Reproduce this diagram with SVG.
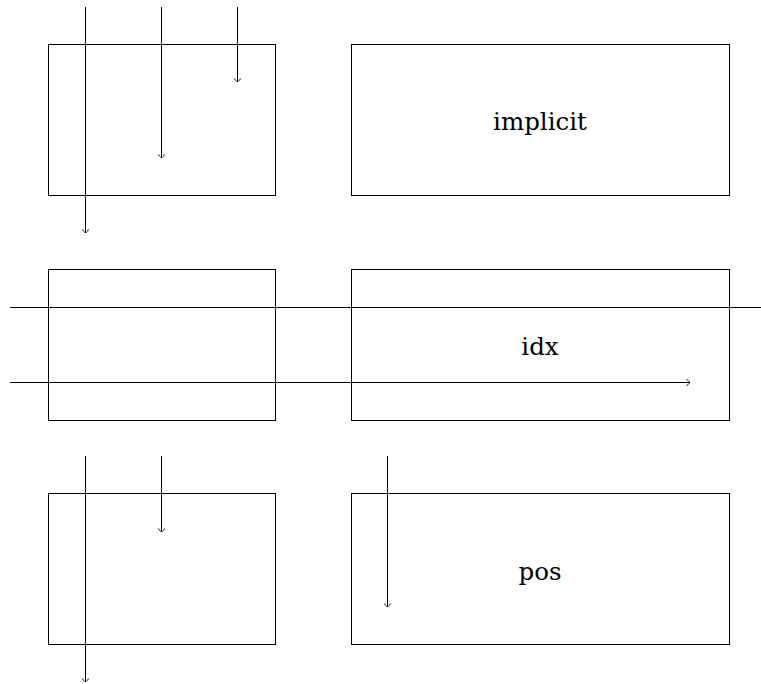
<svg xmlns="http://www.w3.org/2000/svg" width="761" height="684" viewBox="0 0 761 684">
<style>
.box{fill:none;stroke:#000;stroke-width:1}
.c{fill:none;stroke:#000;stroke-width:1}
.t{font-family:'DejaVu Serif',serif;font-size:24.5px;text-anchor:middle;fill:#000}
</style>
<defs>
<marker id="ah" viewBox="-5 -5 6 10" markerWidth="6" markerHeight="10" refX="0" refY="0" orient="auto" markerUnits="userSpaceOnUse">
<path d="M-3.5,-3.5 Q-1,-0.8 0,0 Q-1,0.8 -3.5,3.5" fill="none" stroke="#000" stroke-width="0.9"/>
</marker>
</defs>
<g id="n1"><rect class="box" x="48.5" y="44.5" width="227" height="151"/></g>
<g id="n2"><rect class="box" x="351.5" y="44.5" width="378" height="151"/><text class="t" x="540" y="130">implicit</text></g>
<g id="n3"><rect class="box" x="48.5" y="269.5" width="227" height="151"/></g>
<g id="n4"><rect class="box" x="351.5" y="269.5" width="378" height="151"/><text class="t" x="540" y="355">idx</text></g>
<g id="n5"><rect class="box" x="48.5" y="493.5" width="227" height="151"/></g>
<g id="n6"><rect class="box" x="351.5" y="493.5" width="378" height="151"/><text class="t" x="540" y="580">pos</text></g>
<g id="connectors">
<line class="c" x1="85.5" y1="7" x2="85.5" y2="233" marker-end="url(#ah)"/>
<line class="c" x1="161.5" y1="7" x2="161.5" y2="158" marker-end="url(#ah)"/>
<line class="c" x1="237.5" y1="7" x2="237.5" y2="82" marker-end="url(#ah)"/>
<line class="c" x1="10" y1="307.5" x2="761" y2="307.5"/>
<line class="c" x1="10" y1="382.5" x2="690" y2="382.5" marker-end="url(#ah)"/>
<line class="c" x1="85.5" y1="456" x2="85.5" y2="682" marker-end="url(#ah)"/>
<line class="c" x1="161.5" y1="456" x2="161.5" y2="532" marker-end="url(#ah)"/>
<line class="c" x1="387.5" y1="456" x2="387.5" y2="607" marker-end="url(#ah)"/>
</g>
</svg>
